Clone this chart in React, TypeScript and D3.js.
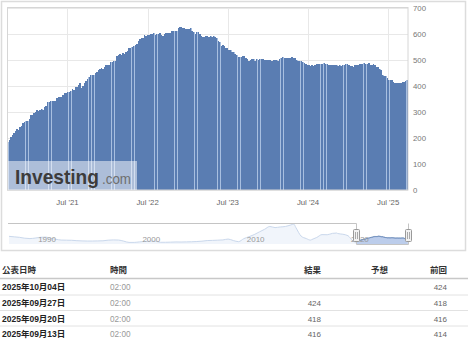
import React from 'react';
import * as d3 from 'd3';

// ---- Data ----
const vals2020 = [183, 193, 205, 211, 221, 226, 236, 231, 241, 246, 258, 263, 264];
const vals2021 = [267, 275, 287, 289, 295, 299, 306, 305, 309, 310, 309, 318, 324, 337, 337, 344, 343, 342, 344, 352, 356, 359, 359, 365, 373, 372, 376, 378, 380, 387, 385, 397, 397, 405, 410, 394, 401, 411, 421, 428, 433, 443, 444, 444, 450, 454, 461, 467, 471, 467, 475, 480, 480];
const vals2022 = [481, 492, 491, 495, 497, 516, 520, 522, 519, 527, 524, 531, 533, 546, 548, 549, 552, 557, 563, 574, 580, 584, 584, 595, 594, 595, 597, 599, 599, 605, 598, 601, 601, 605, 596, 591, 599, 602, 602, 604, 602, 610, 610, 613, 610, 623, 627, 627, 625, 622, 621, 621];
const vals2023 = [621, 623, 613, 609, 599, 609, 607, 600, 592, 590, 589, 593, 592, 590, 591, 588, 591, 588, 586, 575, 570, 555, 556, 552, 546, 545, 540, 537, 530, 529, 525, 520, 512, 512, 513, 515, 515, 507, 502, 497, 501, 502, 504, 496, 503, 500, 505, 505, 503, 501, 500, 501];
const vals2024 = [501, 499, 497, 499, 499, 499, 497, 503, 506, 510, 509, 509, 506, 508, 506, 511, 506, 506, 499, 497, 497, 496, 492, 488, 485, 479, 479, 477, 482, 477, 482, 483, 483, 483, 483, 483, 488, 484, 484, 481, 481, 482, 480, 479, 479, 478, 479, 477, 482, 482, 483, 483];
const vals2025 = [480, 478, 478, 472, 479, 480, 481, 486, 486, 486, 487, 486, 484, 489, 480, 481, 483, 479, 474, 473, 465, 461, 442, 439, 438, 432, 425, 424, 422, 415, 410, 411, 412, 411, 412, 414, 416, 418, 424];
const rigValues = [...vals2020, ...vals2021, ...vals2022, ...vals2023, ...vals2024, ...vals2025];
const firstReport = [2020, 9, 2]; // Oct 2, 2020, then weekly

// Navigator history (long-run oil rig count, before the weekly window)
const navYears = [1987.5, 1988.0, 1988.5, 1989.0, 1989.5, 1990.0, 1990.5, 1991.0, 1991.5, 1992.0, 1992.5, 1993.0, 1993.5, 1994.0, 1994.5, 1995.0, 1995.5, 1996.0, 1996.5, 1997.0, 1997.5, 1998.0, 1998.5, 1999.0, 1999.5, 2000.0, 2000.5, 2001.0, 2001.5, 2002.0, 2002.5, 2003.0, 2003.5, 2004.0, 2004.5, 2005.0, 2005.5, 2006.0, 2006.5, 2007.0, 2007.5, 2008.0, 2008.5, 2009.0, 2009.5, 2010.0, 2010.5, 2011.0, 2011.5, 2012.0, 2012.5, 2013.0, 2013.5, 2014.0, 2014.5, 2014.8, 2015.0, 2015.5, 2016.0, 2016.4, 2016.5, 2017.0, 2017.5, 2018.0, 2018.5, 2018.9, 2019.0, 2019.5, 2020.0, 2020.4, 2020.6];
const navValues = [620, 580, 540, 470, 440, 480, 540, 560, 470, 380, 320, 310, 300, 270, 250, 240, 240, 250, 260, 310, 330, 320, 230, 130, 130, 170, 210, 230, 230, 140, 140, 150, 165, 160, 170, 180, 200, 230, 280, 290, 310, 330, 400, 280, 190, 430, 590, 760, 980, 1190, 1420, 1330, 1380, 1420, 1540, 1609, 1330, 640, 440, 316, 350, 530, 760, 750, 860, 888, 850, 790, 670, 300, 172];

const yTicks = [0, 100, 200, 300, 400, 500, 600, 700];
const xTickYears = [2021, 2022, 2023, 2024, 2025];
const xTickLabels = ["Jul '21", "Jul '22", "Jul '23", "Jul '24", "Jul '25"];
const navTickYears = [1990, 2000, 2010, 2020];

const tableHeaders = ['公表日時', '時間', '結果', '予想', '前回'];
const tableDates = ['2025年10月04日', '2025年09月27日', '2025年09月20日', '2025年09月13日'];
const tableTimes = ['02:00', '02:00', '02:00', '02:00'];
const tableActual = ['', '424', '418', '416'];
const tableForecast = ['', '', '', ''];
const tablePrevious = ['424', '418', '416', '414'];

const SANS = 'Arial, "Liberation Sans", "Noto Sans CJK JP", sans-serif';

function yearFracToDate(yf: number) {
  const y = Math.floor(yf);
  return d3.timeHour.offset(new Date(y, 0, 1), Math.round((yf - y) * 365.25 * 24));
}

export default function App() {
  const W = 468, H = 340;
  const start = new Date(firstReport[0], firstReport[1], firstReport[2]);
  const dates = rigValues.map((_, i) => d3.timeDay.offset(start, 7 * i));
  const last = dates.length - 1;

  const plotL = 7, plotR = 408, plotT = 8, plotB = 190;
  const x = d3.scaleTime()
    .domain([d3.timeHour.offset(dates[0], -84), d3.timeHour.offset(dates[last], 84)])
    .range([plotL, plotR]);
  const y = d3.scaleLinear().domain([0, 700]).range([plotB, plotT]);
  const step = x(dates[1]) - x(dates[0]);
  const bw = step * 0.9;

  const xTicks = xTickYears.map(yr => new Date(yr, 6, 1));

  // navigator
  const navX = d3.scaleTime().domain([new Date(1987, 6, 1), new Date(2025, 9, 1)]).range([9, 408]);
  const navY = d3.scaleLinear().domain([0, 1620]).range([244, 224]);
  const histPts = navYears.map((yf, i) => ({ d: yearFracToDate(yf), v: navValues[i] }));
  const weekPts = dates.map((d, i) => ({ d, v: rigValues[i] }));
  const allPts = [...histPts, ...weekPts];
  const navLine = d3.line<{ d: Date; v: number }>().x(p => navX(p.d)).y(p => navY(p.v)).curve(d3.curveMonotoneX);
  const navArea = d3.area<{ d: Date; v: number }>().x(p => navX(p.d)).y0(244).y1(p => navY(p.v)).curve(d3.curveMonotoneX);
  const lx = navX(dates[0]);
  const rx = navX(dates[last]);

  // table
  const rowY = [287, 303, 318.5, 334];
  const sepY = [295, 310.5, 326];

  return (
    <svg width={W} height={H} style={{ position: 'absolute', left: 0, top: 0, background: '#fff' }} fontFamily={SANS}>
      {/* outer container */}
      <rect x={1.5} y={1.5} width={464} height={249} fill="#fff" stroke="#dcdcdc" strokeWidth={1.5} />

      {/* gridlines */}
      {yTicks.map(t => (
        <line key={'gy' + t} x1={plotL} x2={plotR} y1={Math.round(y(t)) + 0.5} y2={Math.round(y(t)) + 0.5} stroke="#e8e8e8" />
      ))}
      {xTicks.map((t, i) => (
        <line key={'gx' + i} x1={Math.round(x(t)) + 0.5} x2={Math.round(x(t)) + 0.5} y1={plotT} y2={plotB} stroke="#e8e8e8" />
      ))}

      {/* light underlay so gaps between columns read as pale blue */}
      <g fill="#a8bfe0" shapeRendering="crispEdges">
        {rigValues.map((v, i) => {
          const xc = x(dates[i]);
          return <rect key={'u' + i} x={xc - step / 2} y={y(v)} width={step + 0.2} height={plotB - y(v)} />;
        })}
      </g>
      {/* bars */}
      <g fill="#5a7db2" shapeRendering="crispEdges">
        {rigValues.map((v, i) => {
          const xc = x(dates[i]);
          const x0 = Math.round(xc - bw / 2);
          const x1 = Math.round(xc + bw / 2);
          return <rect key={i} x={x0} y={y(v)} width={Math.max(1, x1 - x0)} height={plotB - y(v)} />;
        })}
      </g>

      {/* plot frame */}
      <rect x={plotL + 0.5} y={plotT - 0.5} width={plotR - plotL - 0.5} height={plotB - plotT + 0.5} fill="none" stroke="#d6d6d6" />

      {/* watermark */}
      <rect x={8} y={161} width={129} height={29} fill="#fff" fillOpacity={0.5} />
      <text x={15} y={183.5} fontSize={20.5} fontWeight="bold" fill="#3c3c3c" textLength={84} lengthAdjust="spacingAndGlyphs">Investing</text>
      <text x={102} y={183.5} fontSize={14} fill="#6e6e6e" textLength={29} lengthAdjust="spacingAndGlyphs">.com</text>

      {/* y axis labels */}
      {yTicks.map(t => (
        <text key={'yl' + t} x={413} y={y(t) + 3} fontSize={7.8} fill="#777">{t}</text>
      ))}
      {/* x axis labels */}
      {xTicks.map((t, i) => (
        <text key={'xl' + i} x={x(t)} y={205} fontSize={7.8} fill="#666" textAnchor="middle">{xTickLabels[i]}</text>
      ))}

      {/* navigator */}
      <path d={navArea(allPts) || ''} fill="#f1f5fb" />
      <path d={navLine(allPts) || ''} fill="none" stroke="#cad8ec" strokeWidth={1} />
      <path d={navArea(weekPts) || ''} fill="#bccdeb" />
      <path d={navLine(weekPts) || ''} fill="none" stroke="#4e74ab" strokeWidth={1} />
      {navTickYears.map(yr => (
        <text key={'nl' + yr} x={navX(new Date(yr, 0, 1)) + 3} y={241.5} fontSize={8} fill="#999">{yr}</text>
      ))}
      <path d={`M8,223.5 H${Math.round(lx) + 0.5} V244.5 H${Math.round(rx) + 0.5} V223.5`} fill="none" stroke="#c4c4c4" />
      {[lx, rx].map((hx, i) => (
        <g key={'h' + i}>
          <rect x={Math.round(hx) - 2.5} y={229.5} width={6} height={12} fill="#f2f2f2" stroke="#9a9a9a" rx={1} />
          <line x1={Math.round(hx) - 0.5} x2={Math.round(hx) - 0.5} y1={232} y2={239} stroke="#aaa" />
          <line x1={Math.round(hx) + 1.5} x2={Math.round(hx) + 1.5} y1={232} y2={239} stroke="#aaa" />
        </g>
      ))}

      {/* table */}
      <g>
        <text x={2} y={273} fontSize={8.5} fontWeight="bold" fill="#333">{tableHeaders[0]}</text>
        <text x={110} y={273} fontSize={8.5} fontWeight="bold" fill="#333">{tableHeaders[1]}</text>
        <text x={321} y={273} fontSize={8.5} fontWeight="bold" fill="#333" textAnchor="end">{tableHeaders[2]}</text>
        <text x={388} y={273} fontSize={8.5} fontWeight="bold" fill="#333" textAnchor="end">{tableHeaders[3]}</text>
        <text x={447} y={273} fontSize={8.5} fontWeight="bold" fill="#333" textAnchor="end">{tableHeaders[4]}</text>
        <line x1={0} x2={468} y1={278.5} y2={278.5} stroke="#c8c8c8" strokeWidth={1.5} />
        {sepY.map((sy, i) => (
          <line key={'sep' + i} x1={0} x2={468} y1={sy} y2={sy} stroke="#e2e2e2" />
        ))}
        {tableDates.map((d, i) => (
          <g key={'row' + i}>
            <text x={2} y={rowY[i] + 3} fontSize={8.5} fontWeight="bold" fill="#222">{d}</text>
            <text x={110} y={rowY[i] + 3} fontSize={8.2} fill="#999">{tableTimes[i]}</text>
            <text x={321} y={rowY[i] + 3} fontSize={8} fill="#666" textAnchor="end">{tableActual[i]}</text>
            <text x={388} y={rowY[i] + 3} fontSize={8} fill="#666" textAnchor="end">{tableForecast[i]}</text>
            <text x={447} y={rowY[i] + 3} fontSize={8} fill="#666" textAnchor="end">{tablePrevious[i]}</text>
          </g>
        ))}
      </g>
    </svg>
  );
}
